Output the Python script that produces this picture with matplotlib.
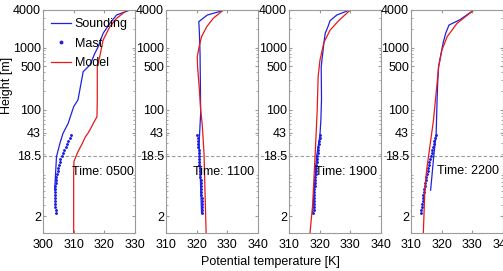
import numpy as np
import matplotlib
matplotlib.use("Agg")
import matplotlib.pyplot as plt
from matplotlib.ticker import FixedLocator, FixedFormatter, NullFormatter, LogLocator

plt.rcParams["font.family"] = ["Liberation Sans", "DejaVu Sans"]

times = ["0500", "1100", "1900", "2200"]
xlims = [(300, 330), (310, 340), (310, 340), (310, 340)]
xtick_sets = [[300, 310, 320, 330], [310, 320, 330, 340],
              [310, 320, 330, 340], [310, 320, 330, 340]]
ytick_vals = [2, 18.5, 43, 100, 500, 1000, 4000]
ytick_labels = ["2", "18.5", "43", "100", "500", "1000", "4000"]

# sounding profiles (temperature K, height m)
snd_t = [
    [303.8, 304.4, 305.5, 306.5, 308.2, 310.0, 311.4, 312.0, 313.1, 315.3,
     316.9, 318.0, 319.6, 321.8, 324.0, 327.8],
    [321.6, 321.2, 320.8, 321.3, 321.2, 321.1, 320.9, 320.7, 323.5, 327.6, 329.0],
    [317.7, 318.3, 319.0, 320.1, 320.4, 320.6, 320.5, 321.0, 321.4, 321.8,
     322.6, 323.4, 325.6, 329.5],
    [316.4, 317.5, 318.2, 318.5, 318.7, 319.0, 319.8, 320.5, 321.3, 322.4,
     326.0, 330.5],
]
snd_h = [
    [5.2, 17.9, 29, 42, 61, 113, 145, 209, 411, 525, 809, 1033, 1690, 2444,
     3327, 3900],
    [2.2, 8, 30, 88, 300, 809, 1690, 2600, 3327, 3800, 4000],
    [2.2, 6, 18, 40, 70, 150, 494, 809, 1200, 1690, 2100, 2700, 3327, 3950],
    [5.2, 20, 40, 145, 270, 494, 809, 1200, 1690, 2300, 2800, 4000],
]

# mast observations (same levels for every time)
mast_h = [2.2, 2.46, 2.75, 3.07, 3.43, 3.84, 4.29, 4.8, 5.36, 6.0, 6.7, 7.5,
          8.4, 9.4, 10.5, 11.7, 13.1, 14.6, 16.3, 18.3, 20.4, 22.8, 25.5,
          28.5, 31.9, 35.6, 39.8]
mast_t = [
    [304.1, 304.1, 304.0, 304.0, 303.9, 303.9, 303.9, 303.9, 304.0, 304.0,
     304.1, 304.2, 304.4, 304.6, 304.8, 305.0, 305.2, 305.4, 305.7, 306.1,
     306.6, 307.0, 307.5, 307.9, 308.3, 308.7, 309.1],
    [321.8, 321.8, 321.7, 321.7, 321.6, 321.6, 321.5, 321.5, 321.4, 321.4,
     321.3, 321.3, 321.2, 321.1, 321.1, 321.0, 320.9, 320.9, 320.8, 320.7,
     320.7, 320.6, 320.5, 320.4, 320.4, 320.3, 320.2],
    [317.9, 318.0, 318.0, 318.1, 318.1, 318.2, 318.2, 318.3, 318.3, 318.4,
     318.5, 318.5, 318.6, 318.7, 318.7, 318.8, 318.9, 319.0, 319.1, 319.2,
     319.3, 319.4, 319.6, 319.7, 319.8, 320.0, 320.1],
    [313.3, 313.4, 313.5, 313.7, 313.8, 313.9, 314.0, 314.2, 314.3, 314.5,
     314.7, 314.9, 315.0, 315.2, 315.4, 315.6, 315.8, 316.0, 316.2, 316.4,
     316.7, 316.9, 317.1, 317.4, 317.6, 317.8, 318.0],
]

# model profiles
mod_t = [
    [310.0, 310.0, 310.1, 311.3, 312.8, 313.8, 314.6, 315.4, 316.4, 317.6,
     317.7, 317.7, 318.5, 319.6, 321.8, 324.0, 327.3],
    [323.1, 322.7, 322.4, 321.8, 321.3, 320.9, 320.3, 320.2, 320.8, 321.6,
     323.3, 325.4, 328.7],
    [316.8, 317.7, 318.5, 319.2, 319.5, 320.1, 321.4, 323.4, 326.2, 330.0],
    [314.0, 314.5, 315.1, 316.2, 317.3, 318.5, 319.0, 320.1, 321.8, 325.0,
     330.5],
]
mod_h = [
    [1.0, 10, 15, 21, 29, 37, 42, 49, 61, 78, 145, 494, 714, 1321, 2163, 2938,
     3950],
    [1.0, 5.4, 20, 60, 100, 209, 494, 714, 1033, 1500, 2163, 2938, 4000],
    [1.0, 3.0, 18, 100, 342, 630, 1215, 1900, 2700, 4000],
    [1.0, 5.0, 10.9, 27, 67, 267, 494, 914, 1500, 2444, 4000],
]

blue = "#2020e0"
red = "#e81818"
grey = "#9a9a9a"
fs = 9

fig = plt.figure(figsize=(5.03, 2.71), dpi=100)
lefts = [43, 166, 289, 411]
width = 92
bottom_px, top_px = 233, 10
W, H = 503, 271

axes = []
for i in range(4):
    ax = fig.add_axes([lefts[i] / W, 1 - bottom_px / H, width / W,
                       (bottom_px - top_px) / H])
    axes.append(ax)
    ax.plot(snd_t[i], snd_h[i], color=blue, lw=0.9, label="Sounding")
    ax.plot(mast_t[i], mast_h, ls="none", marker="o", ms=1.1,
            color=blue, mec=blue, label="Mast")
    ax.plot(mod_t[i], mod_h[i], color=red, lw=0.9, label="Model")

    ax.set_yscale("log")
    ax.set_ylim(1.07, 4000)
    ax.set_xlim(*xlims[i])
    ax.set_xticks(xtick_sets[i])
    ax.yaxis.set_major_locator(FixedLocator(ytick_vals))
    ax.yaxis.set_major_formatter(FixedFormatter(ytick_labels))
    ax.yaxis.set_minor_locator(LogLocator(base=10, subs=np.arange(2, 10)))
    ax.yaxis.set_minor_formatter(NullFormatter())
    ax.tick_params(which="both", direction="in", left=True, right=True,
                   top=True, bottom=True, color=grey, labelsize=fs)
    ax.tick_params(axis="y", pad=1.5)
    ax.tick_params(axis="x", pad=4)
    ax.tick_params(which="major", length=2.5)
    ax.tick_params(which="minor", length=1.5)
    for s in ax.spines.values():
        s.set_color(grey)
        s.set_linewidth(0.8)

    # dashed reference level, continued across the gap to the next panel
    ext = 1 + (lefts[i + 1] - lefts[i] - width) / width if i < 3 else 1
    ax.axhline(18.5, xmin=0, xmax=ext, color=grey, ls="--", lw=0.8,
               dashes=(3, 2), clip_on=False, zorder=0)

    x0 = xlims[i][0]
    ax.text(x0 + [9.4, 8.8, 8.5, 8.5][i], [10, 10, 10, 10.7][i],
            "Time: " + times[i], fontsize=fs, va="center", ha="left",
            clip_on=False)

axes[0].legend(loc="upper left", frameon=False, fontsize=fs,
               handlelength=1.6, handletextpad=0.3,
               labelspacing=0.6, borderaxespad=0.45,
               borderpad=0.2, markerscale=1.6)

axes[0].set_ylabel("Height [m]", fontsize=fs)
axes[0].yaxis.set_label_coords(-0.33, 0.66)
fig.text(0.537, 0.033, "Potential temperature [K]", ha="center",
         va="center", fontsize=fs)

fig.savefig("out.png", dpi=100)
